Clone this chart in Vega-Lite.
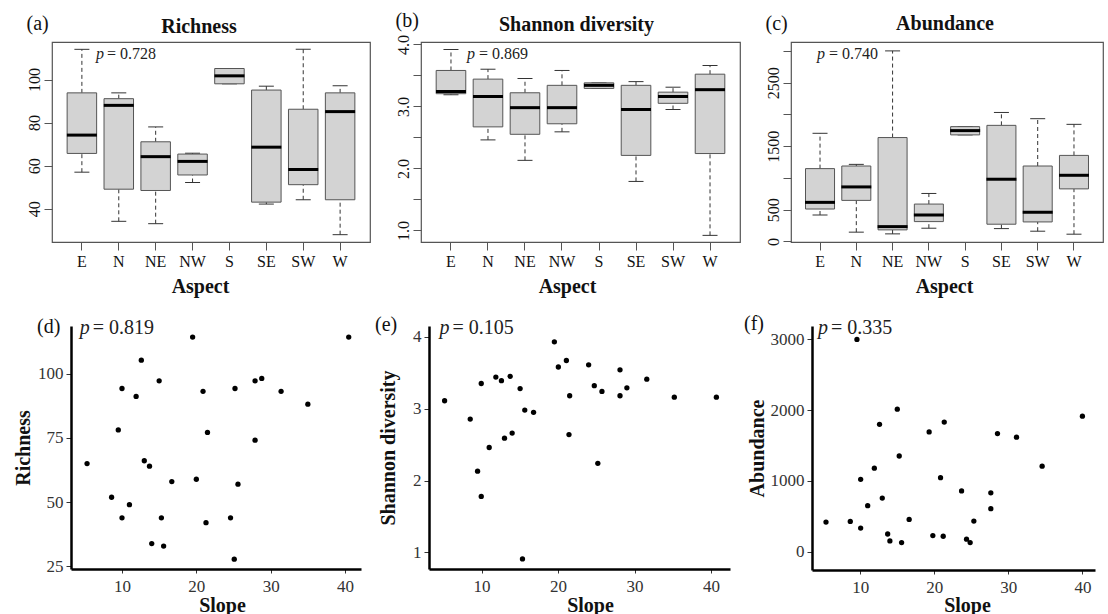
{
  "$schema": "https://vega.github.io/schema/vega-lite/v6.json",
  "padding": {"left": 13, "top": 9, "right": 0, "bottom": 0},
  "config": {
    "font": "Liberation Serif",
    "view": {"stroke": null},
    "axis": {"grid": false, "labelFlush": false, "labelOverlap": false}
  },
  "datasets": {
    "rich_box": [
      {"aspect": "E", "lo": 57, "q1": 65.7, "med": 74.2, "q3": 93.8, "hi": 114},
      {"aspect": "N", "lo": 34.2, "q1": 49.1, "med": 88, "q3": 91.1, "hi": 93.8},
      {"aspect": "NE", "lo": 33.1, "q1": 48.5, "med": 64.2, "q3": 71.1, "hi": 78},
      {"aspect": "NW", "lo": 52.2, "q1": 55.7, "med": 62, "q3": 65.4, "hi": 65.8},
      {"aspect": "S", "lo": 98, "q1": 98, "med": 101.7, "q3": 105.1, "hi": 105.1},
      {"aspect": "SE", "lo": 42.2, "q1": 43.1, "med": 68.6, "q3": 95.1, "hi": 96.9},
      {"aspect": "SW", "lo": 44.2, "q1": 51.2, "med": 58.2, "q3": 86.2, "hi": 114},
      {"aspect": "W", "lo": 28, "q1": 44.2, "med": 85.1, "q3": 93.8, "hi": 97.1}
    ],
    "shan_box": [
      {"aspect": "E", "lo": 3.19, "q1": 3.205, "med": 3.24, "q3": 3.58, "hi": 3.92},
      {"aspect": "N", "lo": 2.46, "q1": 2.67, "med": 3.16, "q3": 3.44, "hi": 3.6},
      {"aspect": "NE", "lo": 2.13, "q1": 2.55, "med": 2.98, "q3": 3.22, "hi": 3.45},
      {"aspect": "NW", "lo": 2.59, "q1": 2.72, "med": 2.98, "q3": 3.34, "hi": 3.58},
      {"aspect": "S", "lo": 3.29, "q1": 3.29, "med": 3.34, "q3": 3.38, "hi": 3.38},
      {"aspect": "SE", "lo": 1.79, "q1": 2.21, "med": 2.95, "q3": 3.34, "hi": 3.4},
      {"aspect": "SW", "lo": 2.95, "q1": 3.05, "med": 3.16, "q3": 3.23, "hi": 3.31},
      {"aspect": "W", "lo": 0.92, "q1": 2.24, "med": 3.27, "q3": 3.52, "hi": 3.66}
    ],
    "abun_box": [
      {"aspect": "E", "lo": 417, "q1": 511, "med": 616, "q3": 1147, "hi": 1703},
      {"aspect": "N", "lo": 147, "q1": 647, "med": 859, "q3": 1188, "hi": 1214},
      {"aspect": "NE", "lo": 120, "q1": 183, "med": 234, "q3": 1636, "hi": 3000},
      {"aspect": "NW", "lo": 209, "q1": 313, "med": 417, "q3": 589, "hi": 756},
      {"aspect": "S", "lo": 1678, "q1": 1678, "med": 1745, "q3": 1808, "hi": 1808},
      {"aspect": "SE", "lo": 203, "q1": 272, "med": 980, "q3": 1828, "hi": 2031},
      {"aspect": "SW", "lo": 162, "q1": 308, "med": 459, "q3": 1188, "hi": 1933},
      {"aspect": "W", "lo": 115, "q1": 828, "med": 1042, "q3": 1355, "hi": 1844}
    ],
    "ann_top": [
      {"panel": "a", "aspect": "E", "y": 111.9, "label": "= 0.728"},
      {"panel": "b", "aspect": "E", "y": 3.845, "label": "= 0.869"},
      {"panel": "c", "aspect": "E", "y": 2956, "label": "= 0.740"}
    ],
    "rich_pts": [
      {"slope": 19.5, "value": 114.2}, {"slope": 40.5, "value": 114.2}, {"slope": 12.6, "value": 105.2},
      {"slope": 15.0, "value": 97.2}, {"slope": 10.0, "value": 94.2}, {"slope": 11.9, "value": 91.1},
      {"slope": 20.9, "value": 93.1}, {"slope": 25.2, "value": 94.2}, {"slope": 27.9, "value": 97.2},
      {"slope": 28.8, "value": 98.1}, {"slope": 31.4, "value": 93.1}, {"slope": 35.0, "value": 88.1},
      {"slope": 9.5, "value": 78.1}, {"slope": 21.5, "value": 77.1}, {"slope": 27.9, "value": 74.1},
      {"slope": 5.3, "value": 65.0}, {"slope": 13.0, "value": 66.1}, {"slope": 13.7, "value": 64.0},
      {"slope": 16.7, "value": 58.0}, {"slope": 20.0, "value": 58.9}, {"slope": 25.6, "value": 57.0},
      {"slope": 8.6, "value": 51.9}, {"slope": 11.0, "value": 49.0}, {"slope": 10.0, "value": 43.9},
      {"slope": 15.3, "value": 43.9}, {"slope": 21.3, "value": 42.0}, {"slope": 24.6, "value": 43.9},
      {"slope": 14.0, "value": 33.9}, {"slope": 15.6, "value": 32.9}, {"slope": 25.1, "value": 27.8}
    ],
    "shan_pts": [
      {"slope": 5.17, "value": 3.11}, {"slope": 8.52, "value": 2.855}, {"slope": 9.96, "value": 3.35},
      {"slope": 9.48, "value": 2.13}, {"slope": 9.96, "value": 1.78}, {"slope": 11.0, "value": 2.46},
      {"slope": 11.87, "value": 3.44}, {"slope": 12.6, "value": 3.39}, {"slope": 13.0, "value": 2.59},
      {"slope": 13.74, "value": 3.45}, {"slope": 14.0, "value": 2.66}, {"slope": 15.04, "value": 3.28},
      {"slope": 15.65, "value": 2.98}, {"slope": 16.8, "value": 2.95}, {"slope": 15.35, "value": 0.91},
      {"slope": 19.52, "value": 3.93}, {"slope": 20.04, "value": 3.58}, {"slope": 21.09, "value": 3.67},
      {"slope": 21.52, "value": 3.18}, {"slope": 21.43, "value": 2.64}, {"slope": 24.0, "value": 3.61},
      {"slope": 24.74, "value": 3.32}, {"slope": 25.74, "value": 3.24}, {"slope": 25.2, "value": 2.24},
      {"slope": 28.1, "value": 3.54}, {"slope": 28.1, "value": 3.18}, {"slope": 29.0, "value": 3.29},
      {"slope": 31.6, "value": 3.41}, {"slope": 35.2, "value": 3.16}, {"slope": 40.7, "value": 3.16}
    ],
    "abun_pts": [
      {"slope": 5.37, "value": 419}, {"slope": 8.65, "value": 428}, {"slope": 9.55, "value": 3000},
      {"slope": 10.05, "value": 1023}, {"slope": 10.05, "value": 335}, {"slope": 11.0, "value": 651},
      {"slope": 11.9, "value": 1181}, {"slope": 12.6, "value": 1800}, {"slope": 12.97, "value": 758},
      {"slope": 13.7, "value": 251}, {"slope": 14.0, "value": 153}, {"slope": 15.0, "value": 2014},
      {"slope": 15.26, "value": 1353}, {"slope": 15.58, "value": 130}, {"slope": 16.6, "value": 456},
      {"slope": 19.3, "value": 1693}, {"slope": 19.8, "value": 228}, {"slope": 20.84, "value": 1047},
      {"slope": 21.34, "value": 1833}, {"slope": 21.2, "value": 219}, {"slope": 23.68, "value": 860},
      {"slope": 24.35, "value": 177}, {"slope": 24.84, "value": 130}, {"slope": 25.34, "value": 433},
      {"slope": 27.63, "value": 833}, {"slope": 27.63, "value": 609}, {"slope": 28.53, "value": 1670},
      {"slope": 31.1, "value": 1619}, {"slope": 34.56, "value": 1209}, {"slope": 40.0, "value": 1916}
    ],
    "ann_bot": [
      {"panel": "d", "slope": 4.32, "value": 117.7, "label": "= 0.819"},
      {"panel": "e", "slope": 4.5, "value": 4.12, "label": "= 0.105"},
      {"panel": "f", "slope": 4.29, "value": 3162, "label": "= 0.335"}
    ]
  },
  "spacing": 16,
  "vconcat": [
    {
      "spacing": 23,
      "hconcat": [
        {
          "width": 318, "height": 200,
          "view": {"stroke": "#555", "strokeWidth": 1.2},
          "title": {"text": "Richness", "fontSize": 20, "fontWeight": "bold", "offset": -40, "baseline": "alphabetic", "dx": -12, "color": "#111"},
          "encoding": {
            "x": {"field": "aspect", "type": "nominal",
              "scale": {"domain": ["E", "N", "NE", "NW", "S", "SE", "SW", "W"], "paddingInner": 0, "paddingOuter": 0.31},
              "axis": {"title": "Aspect", "labelAngle": 0, "labelFontSize": 16, "labelColor": "#111", "labelPadding": 3, "tickSize": 8, "tickColor": "#555", "domain": false, "titleFontSize": 20, "titleFontWeight": "bold", "titleBaseline": "alphabetic", "titleX": 148, "titleY": 50, "titleColor": "#111"}}
          },
          "layer": [
            {"data": {"name": "rich_box"}, "mark": {"type": "rule", "strokeDash": [4, 3], "color": "#333", "strokeWidth": 1},
             "encoding": {"y": {"field": "lo", "type": "quantitative", "scale": {"domain": [24.6, 117.4], "nice": false, "zero": false},
               "axis": {"values": [40, 60, 80, 100], "title": "(a)", "titleAngle": 0, "titleAlign": "left", "titleBaseline": "alphabetic", "titleX": -26, "titleY": -13, "titleFontSize": 20, "titleFontWeight": "normal", "titleColor": "#111", "labelAngle": -90, "labelAlign": "center", "labelBaseline": "alphabetic", "labelPadding": 5, "labelFontSize": 16, "labelColor": "#111", "tickSize": 8, "tickColor": "#555", "domain": false}},
              "y2": {"field": "q1"}}},
            {"data": {"name": "rich_box"}, "mark": {"type": "rule", "strokeDash": [4, 3], "color": "#333", "strokeWidth": 1},
             "encoding": {"y": {"field": "q3", "type": "quantitative", "scale": {"domain": [24.6, 117.4], "nice": false, "zero": false},
               "axis": {"values": [40, 60, 80, 100], "title": "(a)", "titleAngle": 0, "titleAlign": "left", "titleBaseline": "alphabetic", "titleX": -26, "titleY": -13, "titleFontSize": 20, "titleFontWeight": "normal", "titleColor": "#111", "labelAngle": -90, "labelAlign": "center", "labelBaseline": "alphabetic", "labelPadding": 5, "labelFontSize": 16, "labelColor": "#111", "tickSize": 8, "tickColor": "#555", "domain": false}},
              "y2": {"field": "hi"}}},
            {"data": {"name": "rich_box"}, "mark": {"type": "tick", "size": 15, "thickness": 1, "color": "#333", "opacity": 1},
             "encoding": {"y": {"field": "lo", "type": "quantitative", "scale": {"domain": [24.6, 117.4], "nice": false, "zero": false},
               "axis": {"values": [40, 60, 80, 100], "title": "(a)", "titleAngle": 0, "titleAlign": "left", "titleBaseline": "alphabetic", "titleX": -26, "titleY": -13, "titleFontSize": 20, "titleFontWeight": "normal", "titleColor": "#111", "labelAngle": -90, "labelAlign": "center", "labelBaseline": "alphabetic", "labelPadding": 5, "labelFontSize": 16, "labelColor": "#111", "tickSize": 8, "tickColor": "#555", "domain": false}}}},
            {"data": {"name": "rich_box"}, "mark": {"type": "tick", "size": 15, "thickness": 1, "color": "#333", "opacity": 1},
             "encoding": {"y": {"field": "hi", "type": "quantitative", "scale": {"domain": [24.6, 117.4], "nice": false, "zero": false},
               "axis": {"values": [40, 60, 80, 100], "title": "(a)", "titleAngle": 0, "titleAlign": "left", "titleBaseline": "alphabetic", "titleX": -26, "titleY": -13, "titleFontSize": 20, "titleFontWeight": "normal", "titleColor": "#111", "labelAngle": -90, "labelAlign": "center", "labelBaseline": "alphabetic", "labelPadding": 5, "labelFontSize": 16, "labelColor": "#111", "tickSize": 8, "tickColor": "#555", "domain": false}}}},
            {"data": {"name": "rich_box"}, "mark": {"type": "bar", "width": {"band": 0.8}, "fill": "#d3d3d3", "stroke": "#555", "strokeWidth": 1},
             "encoding": {"y": {"field": "q1", "type": "quantitative", "scale": {"domain": [24.6, 117.4], "nice": false, "zero": false},
               "axis": {"values": [40, 60, 80, 100], "title": "(a)", "titleAngle": 0, "titleAlign": "left", "titleBaseline": "alphabetic", "titleX": -26, "titleY": -13, "titleFontSize": 20, "titleFontWeight": "normal", "titleColor": "#111", "labelAngle": -90, "labelAlign": "center", "labelBaseline": "alphabetic", "labelPadding": 5, "labelFontSize": 16, "labelColor": "#111", "tickSize": 8, "tickColor": "#555", "domain": false}},
              "y2": {"field": "q3"}}},
            {"data": {"name": "rich_box"}, "mark": {"type": "tick", "size": 30, "thickness": 3, "color": "#000", "opacity": 1},
             "encoding": {"y": {"field": "med", "type": "quantitative", "scale": {"domain": [24.6, 117.4], "nice": false, "zero": false},
               "axis": {"values": [40, 60, 80, 100], "title": "(a)", "titleAngle": 0, "titleAlign": "left", "titleBaseline": "alphabetic", "titleX": -26, "titleY": -13, "titleFontSize": 20, "titleFontWeight": "normal", "titleColor": "#111", "labelAngle": -90, "labelAlign": "center", "labelBaseline": "alphabetic", "labelPadding": 5, "labelFontSize": 16, "labelColor": "#111", "tickSize": 8, "tickColor": "#555", "domain": false}}}},
            {"data": {"name": "ann_top"}, "transform": [{"filter": "datum.panel == 'a'"}],
             "mark": {"type": "text", "text": "p", "fontStyle": "italic", "fontSize": 16, "align": "left", "baseline": "middle", "dx": 14, "color": "#222"},
             "encoding": {"y": {"field": "y", "type": "quantitative", "scale": {"domain": [24.6, 117.4], "nice": false, "zero": false},
               "axis": {"values": [40, 60, 80, 100], "title": "(a)", "titleAngle": 0, "titleAlign": "left", "titleBaseline": "alphabetic", "titleX": -26, "titleY": -13, "titleFontSize": 20, "titleFontWeight": "normal", "titleColor": "#111", "labelAngle": -90, "labelAlign": "center", "labelBaseline": "alphabetic", "labelPadding": 5, "labelFontSize": 16, "labelColor": "#111", "tickSize": 8, "tickColor": "#555", "domain": false}}}},
            {"data": {"name": "ann_top"}, "transform": [{"filter": "datum.panel == 'a'"}],
             "mark": {"type": "text", "fontSize": 16, "align": "left", "baseline": "middle", "dx": 25, "color": "#222"},
             "encoding": {"y": {"field": "y", "type": "quantitative", "scale": {"domain": [24.6, 117.4], "nice": false, "zero": false},
               "axis": {"values": [40, 60, 80, 100], "title": "(a)", "titleAngle": 0, "titleAlign": "left", "titleBaseline": "alphabetic", "titleX": -26, "titleY": -13, "titleFontSize": 20, "titleFontWeight": "normal", "titleColor": "#111", "labelAngle": -90, "labelAlign": "center", "labelBaseline": "alphabetic", "labelPadding": 5, "labelFontSize": 16, "labelColor": "#111", "tickSize": 8, "tickColor": "#555", "domain": false}},
              "text": {"field": "label"}}}
          ]
        },
        {
          "width": 319, "height": 200,
          "view": {"stroke": "#555", "strokeWidth": 1.2},
          "title": {"text": "Shannon diversity", "fontSize": 20, "fontWeight": "bold", "offset": -41, "baseline": "alphabetic", "dx": -4, "color": "#111"},
          "encoding": {
            "x": {"field": "aspect", "type": "nominal",
              "scale": {"domain": ["E", "N", "NE", "NW", "S", "SE", "SW", "W"], "paddingInner": 0, "paddingOuter": 0.31},
              "axis": {"title": "Aspect", "labelAngle": 0, "labelFontSize": 16, "labelColor": "#111", "labelPadding": 3, "tickSize": 8, "tickColor": "#555", "domain": false, "titleFontSize": 20, "titleFontWeight": "bold", "titleBaseline": "alphabetic", "titleX": 146, "titleY": 50, "titleColor": "#111"}}
          },
          "layer": [
            {"data": {"name": "shan_box"}, "mark": {"type": "rule", "strokeDash": [4, 3], "color": "#333", "strokeWidth": 1},
             "encoding": {"y": {"field": "lo", "type": "quantitative", "scale": {"domain": [0.813, 4.039], "nice": false, "zero": false},
               "axis": {"values": [1, 1.5, 2, 2.5, 3, 3.5, 4], "labelExpr": "datum.value % 1 == 0 ? format(datum.value, '.1f') : ''", "title": "(b)", "titleAngle": 0, "titleAlign": "left", "titleBaseline": "alphabetic", "titleX": -26, "titleY": -16, "titleFontSize": 20, "titleFontWeight": "normal", "titleColor": "#111", "labelAngle": -90, "labelAlign": "center", "labelBaseline": "alphabetic", "labelPadding": 5, "labelFontSize": 16, "labelColor": "#111", "tickSize": 8, "tickColor": "#555", "domain": false}},
              "y2": {"field": "q1"}}},
            {"data": {"name": "shan_box"}, "mark": {"type": "rule", "strokeDash": [4, 3], "color": "#333", "strokeWidth": 1},
             "encoding": {"y": {"field": "q3", "type": "quantitative", "scale": {"domain": [0.813, 4.039], "nice": false, "zero": false},
               "axis": {"values": [1, 1.5, 2, 2.5, 3, 3.5, 4], "labelExpr": "datum.value % 1 == 0 ? format(datum.value, '.1f') : ''", "title": "(b)", "titleAngle": 0, "titleAlign": "left", "titleBaseline": "alphabetic", "titleX": -26, "titleY": -16, "titleFontSize": 20, "titleFontWeight": "normal", "titleColor": "#111", "labelAngle": -90, "labelAlign": "center", "labelBaseline": "alphabetic", "labelPadding": 5, "labelFontSize": 16, "labelColor": "#111", "tickSize": 8, "tickColor": "#555", "domain": false}},
              "y2": {"field": "hi"}}},
            {"data": {"name": "shan_box"}, "mark": {"type": "tick", "size": 15, "thickness": 1, "color": "#333", "opacity": 1},
             "encoding": {"y": {"field": "lo", "type": "quantitative", "scale": {"domain": [0.813, 4.039], "nice": false, "zero": false},
               "axis": {"values": [1, 1.5, 2, 2.5, 3, 3.5, 4], "labelExpr": "datum.value % 1 == 0 ? format(datum.value, '.1f') : ''", "title": "(b)", "titleAngle": 0, "titleAlign": "left", "titleBaseline": "alphabetic", "titleX": -26, "titleY": -16, "titleFontSize": 20, "titleFontWeight": "normal", "titleColor": "#111", "labelAngle": -90, "labelAlign": "center", "labelBaseline": "alphabetic", "labelPadding": 5, "labelFontSize": 16, "labelColor": "#111", "tickSize": 8, "tickColor": "#555", "domain": false}}}},
            {"data": {"name": "shan_box"}, "mark": {"type": "tick", "size": 15, "thickness": 1, "color": "#333", "opacity": 1},
             "encoding": {"y": {"field": "hi", "type": "quantitative", "scale": {"domain": [0.813, 4.039], "nice": false, "zero": false},
               "axis": {"values": [1, 1.5, 2, 2.5, 3, 3.5, 4], "labelExpr": "datum.value % 1 == 0 ? format(datum.value, '.1f') : ''", "title": "(b)", "titleAngle": 0, "titleAlign": "left", "titleBaseline": "alphabetic", "titleX": -26, "titleY": -16, "titleFontSize": 20, "titleFontWeight": "normal", "titleColor": "#111", "labelAngle": -90, "labelAlign": "center", "labelBaseline": "alphabetic", "labelPadding": 5, "labelFontSize": 16, "labelColor": "#111", "tickSize": 8, "tickColor": "#555", "domain": false}}}},
            {"data": {"name": "shan_box"}, "mark": {"type": "bar", "width": {"band": 0.8}, "fill": "#d3d3d3", "stroke": "#555", "strokeWidth": 1},
             "encoding": {"y": {"field": "q1", "type": "quantitative", "scale": {"domain": [0.813, 4.039], "nice": false, "zero": false},
               "axis": {"values": [1, 1.5, 2, 2.5, 3, 3.5, 4], "labelExpr": "datum.value % 1 == 0 ? format(datum.value, '.1f') : ''", "title": "(b)", "titleAngle": 0, "titleAlign": "left", "titleBaseline": "alphabetic", "titleX": -26, "titleY": -16, "titleFontSize": 20, "titleFontWeight": "normal", "titleColor": "#111", "labelAngle": -90, "labelAlign": "center", "labelBaseline": "alphabetic", "labelPadding": 5, "labelFontSize": 16, "labelColor": "#111", "tickSize": 8, "tickColor": "#555", "domain": false}},
              "y2": {"field": "q3"}}},
            {"data": {"name": "shan_box"}, "mark": {"type": "tick", "size": 30, "thickness": 3, "color": "#000", "opacity": 1},
             "encoding": {"y": {"field": "med", "type": "quantitative", "scale": {"domain": [0.813, 4.039], "nice": false, "zero": false},
               "axis": {"values": [1, 1.5, 2, 2.5, 3, 3.5, 4], "labelExpr": "datum.value % 1 == 0 ? format(datum.value, '.1f') : ''", "title": "(b)", "titleAngle": 0, "titleAlign": "left", "titleBaseline": "alphabetic", "titleX": -26, "titleY": -16, "titleFontSize": 20, "titleFontWeight": "normal", "titleColor": "#111", "labelAngle": -90, "labelAlign": "center", "labelBaseline": "alphabetic", "labelPadding": 5, "labelFontSize": 16, "labelColor": "#111", "tickSize": 8, "tickColor": "#555", "domain": false}}}},
            {"data": {"name": "ann_top"}, "transform": [{"filter": "datum.panel == 'b'"}],
             "mark": {"type": "text", "text": "p", "fontStyle": "italic", "fontSize": 16, "align": "left", "baseline": "middle", "dx": 16, "color": "#222"},
             "encoding": {"y": {"field": "y", "type": "quantitative", "scale": {"domain": [0.813, 4.039], "nice": false, "zero": false},
               "axis": {"values": [1, 1.5, 2, 2.5, 3, 3.5, 4], "labelExpr": "datum.value % 1 == 0 ? format(datum.value, '.1f') : ''", "title": "(b)", "titleAngle": 0, "titleAlign": "left", "titleBaseline": "alphabetic", "titleX": -26, "titleY": -16, "titleFontSize": 20, "titleFontWeight": "normal", "titleColor": "#111", "labelAngle": -90, "labelAlign": "center", "labelBaseline": "alphabetic", "labelPadding": 5, "labelFontSize": 16, "labelColor": "#111", "tickSize": 8, "tickColor": "#555", "domain": false}}}},
            {"data": {"name": "ann_top"}, "transform": [{"filter": "datum.panel == 'b'"}],
             "mark": {"type": "text", "fontSize": 16, "align": "left", "baseline": "middle", "dx": 28, "color": "#222"},
             "encoding": {"y": {"field": "y", "type": "quantitative", "scale": {"domain": [0.813, 4.039], "nice": false, "zero": false},
               "axis": {"values": [1, 1.5, 2, 2.5, 3, 3.5, 4], "labelExpr": "datum.value % 1 == 0 ? format(datum.value, '.1f') : ''", "title": "(b)", "titleAngle": 0, "titleAlign": "left", "titleBaseline": "alphabetic", "titleX": -26, "titleY": -16, "titleFontSize": 20, "titleFontWeight": "normal", "titleColor": "#111", "labelAngle": -90, "labelAlign": "center", "labelBaseline": "alphabetic", "labelPadding": 5, "labelFontSize": 16, "labelColor": "#111", "tickSize": 8, "tickColor": "#555", "domain": false}},
              "text": {"field": "label"}}}
          ]
        },
        {
          "width": 312, "height": 200,
          "view": {"stroke": "#555", "strokeWidth": 1.2},
          "title": {"text": "Abundance", "fontSize": 20, "fontWeight": "bold", "offset": -37, "baseline": "alphabetic", "dx": -2, "color": "#111"},
          "encoding": {
            "x": {"field": "aspect", "type": "nominal",
              "scale": {"domain": ["E", "N", "NE", "NW", "S", "SE", "SW", "W"], "paddingInner": 0, "paddingOuter": 0.3},
              "axis": {"title": "Aspect", "labelAngle": 0, "labelFontSize": 16, "labelColor": "#111", "labelPadding": 3, "tickSize": 8, "tickColor": "#555", "domain": false, "titleFontSize": 20, "titleFontWeight": "bold", "titleBaseline": "alphabetic", "titleX": 153, "titleY": 50, "titleColor": "#111"}}
          },
          "layer": [
            {"data": {"name": "abun_box"}, "mark": {"type": "rule", "strokeDash": [4, 3], "color": "#333", "strokeWidth": 1},
             "encoding": {"y": {"field": "lo", "type": "quantitative", "scale": {"domain": [-8, 3140], "nice": false, "zero": false},
               "axis": {"values": [0, 500, 1000, 1500, 2000, 2500, 3000], "labelExpr": "(datum.value == 1000 || datum.value == 2000 || datum.value == 3000) ? '' : format(datum.value, 'd')", "title": "(c)", "titleAngle": 0, "titleAlign": "left", "titleBaseline": "alphabetic", "titleX": -26, "titleY": -13, "titleFontSize": 20, "titleFontWeight": "normal", "titleColor": "#111", "labelAngle": -90, "labelAlign": "center", "labelBaseline": "alphabetic", "labelPadding": 5, "labelFontSize": 16, "labelColor": "#111", "tickSize": 8, "tickColor": "#555", "domain": false}},
              "y2": {"field": "q1"}}},
            {"data": {"name": "abun_box"}, "mark": {"type": "rule", "strokeDash": [4, 3], "color": "#333", "strokeWidth": 1},
             "encoding": {"y": {"field": "q3", "type": "quantitative", "scale": {"domain": [-8, 3140], "nice": false, "zero": false},
               "axis": {"values": [0, 500, 1000, 1500, 2000, 2500, 3000], "labelExpr": "(datum.value == 1000 || datum.value == 2000 || datum.value == 3000) ? '' : format(datum.value, 'd')", "title": "(c)", "titleAngle": 0, "titleAlign": "left", "titleBaseline": "alphabetic", "titleX": -26, "titleY": -13, "titleFontSize": 20, "titleFontWeight": "normal", "titleColor": "#111", "labelAngle": -90, "labelAlign": "center", "labelBaseline": "alphabetic", "labelPadding": 5, "labelFontSize": 16, "labelColor": "#111", "tickSize": 8, "tickColor": "#555", "domain": false}},
              "y2": {"field": "hi"}}},
            {"data": {"name": "abun_box"}, "mark": {"type": "tick", "size": 15, "thickness": 1, "color": "#333", "opacity": 1},
             "encoding": {"y": {"field": "lo", "type": "quantitative", "scale": {"domain": [-8, 3140], "nice": false, "zero": false},
               "axis": {"values": [0, 500, 1000, 1500, 2000, 2500, 3000], "labelExpr": "(datum.value == 1000 || datum.value == 2000 || datum.value == 3000) ? '' : format(datum.value, 'd')", "title": "(c)", "titleAngle": 0, "titleAlign": "left", "titleBaseline": "alphabetic", "titleX": -26, "titleY": -13, "titleFontSize": 20, "titleFontWeight": "normal", "titleColor": "#111", "labelAngle": -90, "labelAlign": "center", "labelBaseline": "alphabetic", "labelPadding": 5, "labelFontSize": 16, "labelColor": "#111", "tickSize": 8, "tickColor": "#555", "domain": false}}}},
            {"data": {"name": "abun_box"}, "mark": {"type": "tick", "size": 15, "thickness": 1, "color": "#333", "opacity": 1},
             "encoding": {"y": {"field": "hi", "type": "quantitative", "scale": {"domain": [-8, 3140], "nice": false, "zero": false},
               "axis": {"values": [0, 500, 1000, 1500, 2000, 2500, 3000], "labelExpr": "(datum.value == 1000 || datum.value == 2000 || datum.value == 3000) ? '' : format(datum.value, 'd')", "title": "(c)", "titleAngle": 0, "titleAlign": "left", "titleBaseline": "alphabetic", "titleX": -26, "titleY": -13, "titleFontSize": 20, "titleFontWeight": "normal", "titleColor": "#111", "labelAngle": -90, "labelAlign": "center", "labelBaseline": "alphabetic", "labelPadding": 5, "labelFontSize": 16, "labelColor": "#111", "tickSize": 8, "tickColor": "#555", "domain": false}}}},
            {"data": {"name": "abun_box"}, "mark": {"type": "bar", "width": {"band": 0.8}, "fill": "#d3d3d3", "stroke": "#555", "strokeWidth": 1},
             "encoding": {"y": {"field": "q1", "type": "quantitative", "scale": {"domain": [-8, 3140], "nice": false, "zero": false},
               "axis": {"values": [0, 500, 1000, 1500, 2000, 2500, 3000], "labelExpr": "(datum.value == 1000 || datum.value == 2000 || datum.value == 3000) ? '' : format(datum.value, 'd')", "title": "(c)", "titleAngle": 0, "titleAlign": "left", "titleBaseline": "alphabetic", "titleX": -26, "titleY": -13, "titleFontSize": 20, "titleFontWeight": "normal", "titleColor": "#111", "labelAngle": -90, "labelAlign": "center", "labelBaseline": "alphabetic", "labelPadding": 5, "labelFontSize": 16, "labelColor": "#111", "tickSize": 8, "tickColor": "#555", "domain": false}},
              "y2": {"field": "q3"}}},
            {"data": {"name": "abun_box"}, "mark": {"type": "tick", "size": 30, "thickness": 3, "color": "#000", "opacity": 1},
             "encoding": {"y": {"field": "med", "type": "quantitative", "scale": {"domain": [-8, 3140], "nice": false, "zero": false},
               "axis": {"values": [0, 500, 1000, 1500, 2000, 2500, 3000], "labelExpr": "(datum.value == 1000 || datum.value == 2000 || datum.value == 3000) ? '' : format(datum.value, 'd')", "title": "(c)", "titleAngle": 0, "titleAlign": "left", "titleBaseline": "alphabetic", "titleX": -26, "titleY": -13, "titleFontSize": 20, "titleFontWeight": "normal", "titleColor": "#111", "labelAngle": -90, "labelAlign": "center", "labelBaseline": "alphabetic", "labelPadding": 5, "labelFontSize": 16, "labelColor": "#111", "tickSize": 8, "tickColor": "#555", "domain": false}}}},
            {"data": {"name": "ann_top"}, "transform": [{"filter": "datum.panel == 'c'"}],
             "mark": {"type": "text", "text": "p", "fontStyle": "italic", "fontSize": 16, "align": "left", "baseline": "middle", "dx": -3, "color": "#222"},
             "encoding": {"y": {"field": "y", "type": "quantitative", "scale": {"domain": [-8, 3140], "nice": false, "zero": false},
               "axis": {"values": [0, 500, 1000, 1500, 2000, 2500, 3000], "labelExpr": "(datum.value == 1000 || datum.value == 2000 || datum.value == 3000) ? '' : format(datum.value, 'd')", "title": "(c)", "titleAngle": 0, "titleAlign": "left", "titleBaseline": "alphabetic", "titleX": -26, "titleY": -13, "titleFontSize": 20, "titleFontWeight": "normal", "titleColor": "#111", "labelAngle": -90, "labelAlign": "center", "labelBaseline": "alphabetic", "labelPadding": 5, "labelFontSize": 16, "labelColor": "#111", "tickSize": 8, "tickColor": "#555", "domain": false}}}},
            {"data": {"name": "ann_top"}, "transform": [{"filter": "datum.panel == 'c'"}],
             "mark": {"type": "text", "fontSize": 16, "align": "left", "baseline": "middle", "dx": 9, "color": "#222"},
             "encoding": {"y": {"field": "y", "type": "quantitative", "scale": {"domain": [-8, 3140], "nice": false, "zero": false},
               "axis": {"values": [0, 500, 1000, 1500, 2000, 2500, 3000], "labelExpr": "(datum.value == 1000 || datum.value == 2000 || datum.value == 3000) ? '' : format(datum.value, 'd')", "title": "(c)", "titleAngle": 0, "titleAlign": "left", "titleBaseline": "alphabetic", "titleX": -26, "titleY": -13, "titleFontSize": 20, "titleFontWeight": "normal", "titleColor": "#111", "labelAngle": -90, "labelAlign": "center", "labelBaseline": "alphabetic", "labelPadding": 5, "labelFontSize": 16, "labelColor": "#111", "tickSize": 8, "tickColor": "#555", "domain": false}},
              "text": {"field": "label"}}}
          ]
        }
      ]
    },
    {
      "spacing": 14,
      "hconcat": [
        {
          "width": 309, "height": 243,
          "title": {"text": "(d)", "anchor": "start", "frame": "group", "dx": -15, "offset": -35, "baseline": "alphabetic", "fontSize": 20, "fontWeight": "normal", "color": "#111"},
          "encoding": {
            "x": {"field": "slope", "type": "quantitative", "scale": {"domain": [3.14, 42.15], "range": [19, 309], "nice": false, "zero": false},
              "axis": {"title": "Slope", "values": [10, 20, 30, 40], "tickSize": 4, "tickColor": "#333", "domainColor": "#000", "domainWidth": 2.5, "labelFontSize": 17, "labelColor": "#333", "labelPadding": 5, "titleFontSize": 20, "titleFontWeight": "bold", "titleColor": "#111", "titleBaseline": "alphabetic", "titleX": 170, "titleY": 42}},
            "y": {"field": "value", "type": "quantitative", "scale": {"domain": [24, 118.5], "nice": false, "zero": false},
              "axis": {"title": "Richness", "offset": -19, "values": [25, 50, 75, 100], "tickSize": 5, "tickColor": "#333", "domainColor": "#000", "domainWidth": 2.5, "labelFontSize": 17, "labelColor": "#333", "labelPadding": 3, "titleFontSize": 20, "titleFontWeight": "bold", "titleColor": "#111", "titleBaseline": "alphabetic", "titleAngle": -90, "titleAlign": "center", "titleX": -42, "titleY": 121.5}}
          },
          "layer": [
            {"data": {"name": "rich_pts"}, "mark": {"type": "point", "filled": true, "size": 28, "color": "#000", "opacity": 1}},
            {"data": {"name": "ann_bot"}, "transform": [{"filter": "datum.panel == 'd'"}],
             "mark": {"type": "text", "text": "p", "fontStyle": "italic", "fontSize": 20, "align": "left", "baseline": "middle", "color": "#222"}},
            {"data": {"name": "ann_bot"}, "transform": [{"filter": "datum.panel == 'd'"}],
             "mark": {"type": "text", "fontSize": 20, "align": "left", "baseline": "middle", "dx": 13, "color": "#222"},
             "encoding": {"text": {"field": "label"}}}
          ]
        },
        {
          "width": 301, "height": 243,
          "title": {"text": "(e)", "anchor": "start", "frame": "group", "dx": -54, "offset": -33, "baseline": "alphabetic", "fontSize": 20, "fontWeight": "normal", "color": "#111"},
          "encoding": {
            "x": {"field": "slope", "type": "quantitative", "scale": {"domain": [3.13, 42.48], "nice": false, "zero": false},
              "axis": {"title": "Slope", "values": [10, 20, 30, 40], "tickSize": 4, "tickColor": "#333", "domainColor": "#000", "domainWidth": 2.5, "labelFontSize": 17, "labelColor": "#333", "labelPadding": 5, "titleFontSize": 20, "titleFontWeight": "bold", "titleColor": "#111", "titleBaseline": "alphabetic", "titleX": 161, "titleY": 42}},
            "y": {"field": "value", "type": "quantitative", "scale": {"domain": [0.77, 4.15], "nice": false, "zero": false},
              "axis": {"title": "Shannon diversity", "values": [1, 2, 3, 4], "tickSize": 5, "tickColor": "#333", "domainColor": "#000", "domainWidth": 2.5, "labelFontSize": 17, "labelColor": "#333", "labelPadding": 3, "titleFontSize": 20, "titleFontWeight": "bold", "titleColor": "#111", "titleBaseline": "alphabetic", "titleAngle": -90, "titleAlign": "center", "titleX": -35, "titleY": 121.5}}
          },
          "layer": [
            {"data": {"name": "shan_pts"}, "mark": {"type": "point", "filled": true, "size": 28, "color": "#000", "opacity": 1}},
            {"data": {"name": "ann_bot"}, "transform": [{"filter": "datum.panel == 'e'"}],
             "mark": {"type": "text", "text": "p", "fontStyle": "italic", "fontSize": 20, "align": "left", "baseline": "middle", "color": "#222"}},
            {"data": {"name": "ann_bot"}, "transform": [{"filter": "datum.panel == 'e'"}],
             "mark": {"type": "text", "fontSize": 20, "align": "left", "baseline": "middle", "dx": 13, "color": "#222"},
             "encoding": {"text": {"field": "label"}}}
          ]
        },
        {
          "width": 283, "height": 244,
          "title": {"text": "(f)", "anchor": "start", "frame": "group", "dx": -68, "offset": -32, "baseline": "alphabetic", "fontSize": 20, "fontWeight": "normal", "color": "#111"},
          "encoding": {
            "x": {"field": "slope", "type": "quantitative", "scale": {"domain": [3.48, 41.7], "nice": false, "zero": false},
              "axis": {"title": "Slope", "values": [10, 20, 30, 40], "tickSize": 4, "tickColor": "#333", "domainColor": "#000", "domainWidth": 2.5, "labelFontSize": 17, "labelColor": "#333", "labelPadding": 5, "titleFontSize": 20, "titleFontWeight": "bold", "titleColor": "#111", "titleBaseline": "alphabetic", "titleX": 155, "titleY": 41}},
            "y": {"field": "value", "type": "quantitative", "scale": {"domain": [-258, 3190], "nice": false, "zero": false},
              "axis": {"title": "Abundance", "values": [0, 1000, 2000, 3000], "format": "d", "tickSize": 5, "tickColor": "#333", "domainColor": "#000", "domainWidth": 2.5, "labelFontSize": 17, "labelColor": "#333", "labelPadding": 3, "titleFontSize": 20, "titleFontWeight": "bold", "titleColor": "#111", "titleBaseline": "alphabetic", "titleAngle": -90, "titleAlign": "center", "titleX": -49, "titleY": 122}}
          },
          "layer": [
            {"data": {"name": "abun_pts"}, "mark": {"type": "point", "filled": true, "size": 28, "color": "#000", "opacity": 1}},
            {"data": {"name": "ann_bot"}, "transform": [{"filter": "datum.panel == 'f'"}],
             "mark": {"type": "text", "text": "p", "fontStyle": "italic", "fontSize": 20, "align": "left", "baseline": "middle", "color": "#222"}},
            {"data": {"name": "ann_bot"}, "transform": [{"filter": "datum.panel == 'f'"}],
             "mark": {"type": "text", "fontSize": 20, "align": "left", "baseline": "middle", "dx": 13, "color": "#222"},
             "encoding": {"text": {"field": "label"}}}
          ]
        }
      ]
    }
  ]
}
